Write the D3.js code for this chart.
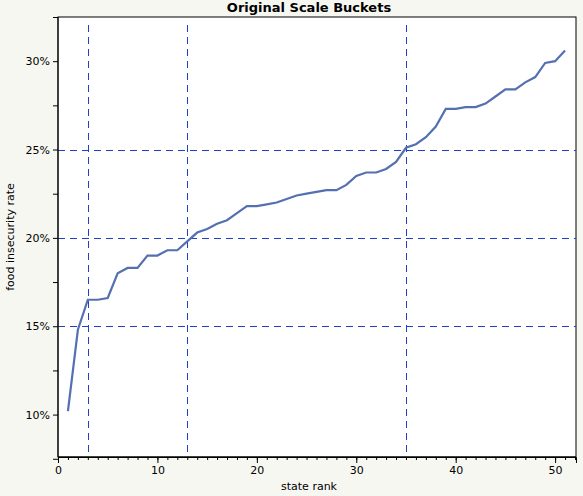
<!DOCTYPE html><html><head><meta charset="utf-8"><script src="https://cdn.jsdelivr.net/npm/d3@7"></script>
<style>body{margin:0;background:#f7f7f2}text{font-family:"DejaVu Sans",sans-serif}</style></head><body><svg id="c" width="583" height="496"></svg><script>
const ranks=d3.range(1,52);
const rates=[10.2,14.8,16.5,16.5,16.6,18.0,18.3,18.3,19.0,19.0,19.3,19.3,19.8,20.3,20.5,20.8,21.0,21.4,21.8,21.8,21.9,22.0,22.2,22.4,22.5,22.6,22.7,22.7,23.0,23.5,23.7,23.7,23.9,24.3,25.1,25.3,25.7,26.3,27.3,27.3,27.4,27.4,27.6,28.0,28.4,28.4,28.8,29.1,29.9,30.0,30.6];
const vLines=[3,13,35], hLines=[15,20,25];
const xTicks=[0,10,20,30,40,50], yTicks=[10,15,20,25,30];
const svg=d3.select("#c");
const L=58,R=576,T=17,B=457;
const x=d3.scaleLinear().domain([0,52.1]).range([L,R]);
const y=d3.scaleLinear().domain([7.6,32.5]).range([B,T]);
svg.append("rect").attr("x",L).attr("y",T).attr("width",R-L).attr("height",B-T).attr("fill","#fff").attr("stroke","#000");
vLines.forEach(v=>svg.append("line").attr("x1",Math.round(x(v))+0.5).attr("x2",Math.round(x(v))+0.5).attr("y1",T+8).attr("y2",B).attr("stroke","#1f3fc8").attr("stroke-dasharray","7,5"));
hLines.forEach(v=>svg.append("line").attr("x1",L).attr("x2",R).attr("y1",Math.round(y(v))+0.5).attr("y2",Math.round(y(v))+0.5).attr("stroke","#1f3fc8").attr("stroke-dasharray","7,5"));
svg.append("path").datum(ranks.map((r,i)=>[r,rates[i]])).attr("fill","none").attr("stroke","#5470b0").attr("stroke-width",2.2)
 .attr("d",d3.line().x(d=>x(d[0])).y(d=>y(d[1])));
const gx=svg.append("g").attr("transform",`translate(0,${B})`);
gx.call(d3.axisBottom(x).tickValues(d3.range(0,53)).tickSize(3).tickFormat(""));
gx.call(g=>g.select(".domain").remove());
const gx2=svg.append("g").attr("transform",`translate(0,${B})`).call(d3.axisBottom(x).tickValues(xTicks).tickSize(6).tickFormat(d3.format("d")));
gx2.selectAll("text").attr("font-size",11).attr("fill","#000");
const gy=svg.append("g").attr("transform",`translate(${L},0)`).call(d3.axisLeft(y).tickValues([7.5,12.5,17.5,22.5,27.5,32.5]).tickSize(5).tickFormat(""));
gy.select(".domain").remove();
const gy2=svg.append("g").attr("transform",`translate(${L},0)`).call(d3.axisLeft(y).tickValues(yTicks).tickSize(5).tickFormat(d=>d+"%"));
gy2.select(".domain").remove();
gy2.selectAll("text").attr("font-size",11).attr("fill","#000");
svg.append("line").attr("x1",L).attr("x2",R).attr("y1",B).attr("y2",B).attr("stroke","#000");
svg.append("line").attr("x1",L).attr("x2",L).attr("y1",T).attr("y2",B).attr("stroke","#000");
svg.append("text").attr("x",(L+R)/2-8).attr("y",12).attr("text-anchor","middle").attr("font-weight","bold").attr("font-size",13).text("Original Scale Buckets");
svg.append("text").attr("x",(L+R)/2-8).attr("y",490).attr("text-anchor","middle").attr("font-size",11).text("state rank");
svg.append("text").attr("transform",`translate(14,${(T+B)/2}) rotate(-90)`).attr("text-anchor","middle").attr("font-size",11).text("food insecurity rate");
</script></body></html>
